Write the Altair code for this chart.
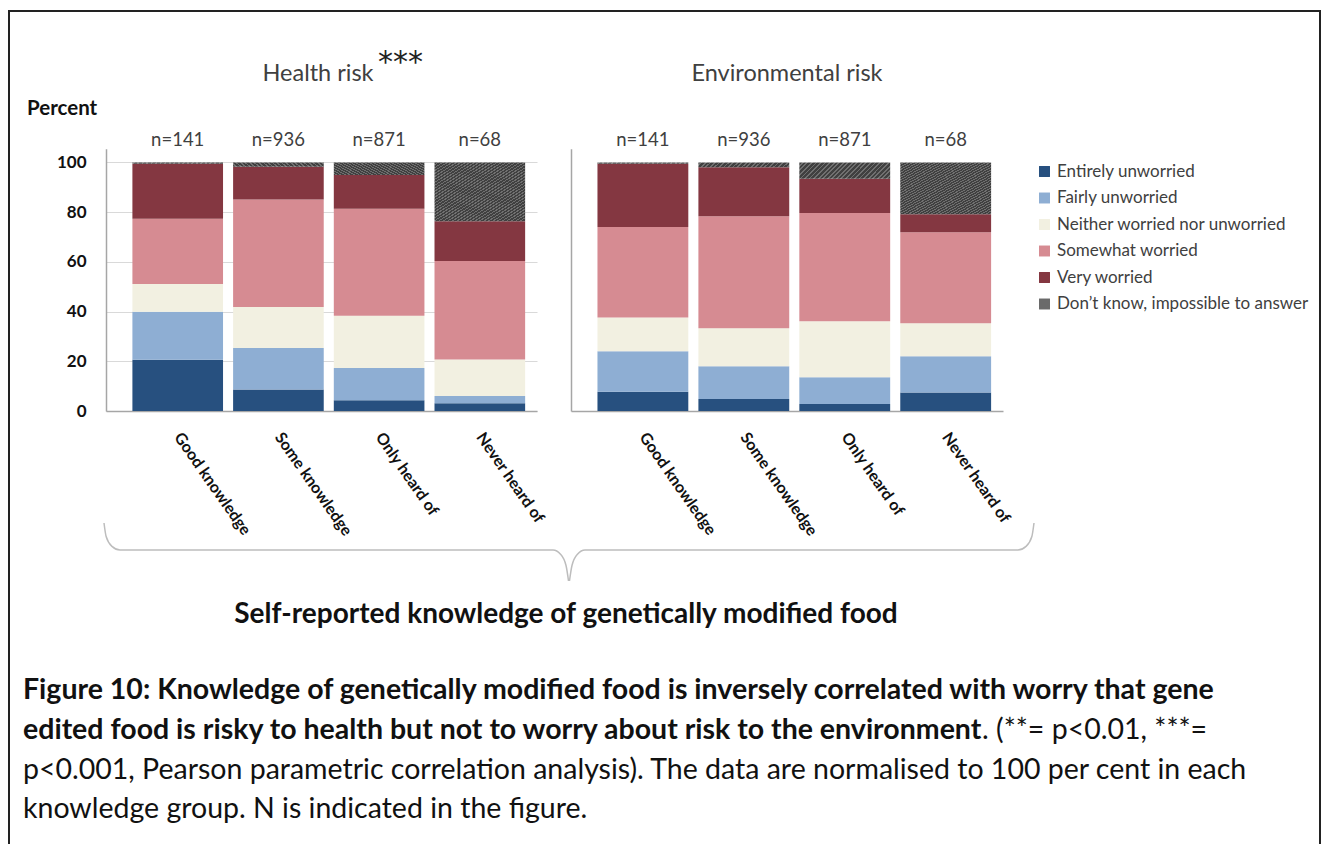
import altair as alt
import pandas as pd

# ---------------- data ----------------
groups = ["Good knowledge", "Some knowledge", "Only heard of", "Never heard of"]
n_values = [141, 936, 871, 68]
categories = [
    "Entirely unworried",
    "Fairly unworried",
    "Neither worried nor unworried",
    "Somewhat worried",
    "Very worried",
    "Don\u2019t know, impossible to answer",
]
colors = ["#27507f", "#8eaed3", "#f2f0e1", "#d68b92", "#843741", "#6a6a6a"]

health_entirely = [20.6, 8.7, 4.3, 3.1]
health_fairly = [19.3, 16.6, 13.0, 2.9]
health_neither = [11.2, 16.5, 21.0, 14.7]
health_somewhat = [26.3, 43.3, 43.1, 39.7]
health_very = [22.1, 13.2, 13.6, 15.9]
health_dontknow = [0.5, 1.7, 5.0, 23.7]

env_entirely = [7.7, 4.8, 2.8, 7.4]
env_fairly = [16.3, 13.2, 10.8, 14.6]
env_neither = [13.6, 15.3, 22.5, 13.3]
env_somewhat = [36.4, 45.1, 43.6, 36.6]
env_very = [25.5, 19.7, 13.7, 7.3]
env_dontknow = [0.5, 1.9, 6.6, 20.8]

y_ticks = [0, 20, 40, 60, 80, 100]

# brace shape (unit coordinates: along width, depth)
brace_seg = [0, 0, 0, 0, 0, 0, 0, 0, 1, 1, 1, 1, 1, 1, 1, 1]
brace_u = [0.0, 0.0023, 0.0086, 0.0172, 0.4828, 0.4909, 0.4968, 0.4995,
           0.5005, 0.5032, 0.5091, 0.5172, 0.9828, 0.9914, 0.9977, 1.0]
brace_v = [0.0, 0.233, 0.403, 0.466, 0.466, 0.538, 0.733, 1.0,
           1.0, 0.733, 0.538, 0.466, 0.466, 0.403, 0.233, 0.0]

caption_1 = "Figure 10: Knowledge of genetically modified food is inversely correlated with worry that gene"
caption_2a = "edited food is risky to health but not to worry about risk to the environment"
caption_2b = ". (**= p<0.01, ***="
caption_3 = "p<0.001, Pearson parametric correlation analysis). The data are normalised to 100 per cent in each"
caption_4 = "knowledge group. N is indicated in the figure."

# ---------------- tables ----------------
def long_table(panel, series):
    rows = []
    for ci, (cat, vals) in enumerate(zip(categories, series)):
        for g, v in zip(groups, vals):
            rows.append({"panel": panel, "group": g, "category": cat, "order": ci, "value": v})
    return pd.DataFrame(rows)

df_health = long_table("Health risk", [health_entirely, health_fairly, health_neither,
                                       health_somewhat, health_very, health_dontknow])
df_env = long_table("Environmental risk", [env_entirely, env_fairly, env_neither,
                                           env_somewhat, env_very, env_dontknow])
n_df = pd.DataFrame({"group": groups, "label": [f"n={n}" for n in n_values]})
brace_df = pd.DataFrame({"seg": brace_seg, "u": brace_u, "v": brace_v,
                         "i": list(range(len(brace_u)))})
one = pd.DataFrame({"a": [0]})

FONT = "Lato"
Y_RANGE = [403, 140.8]
CAP = 28.5

N_STRIPES = 40
hatch = alt.LinearGradient(
    gradient="linear",
    x1=0, y1=0, x2=1, y2=1,
    stops=[s for k in range(N_STRIPES) for s in (
        alt.GradientStop(color="#404040", offset=k / N_STRIPES),
        alt.GradientStop(color="#404040", offset=(k + 0.6) / N_STRIPES),
        alt.GradientStop(color="#707070", offset=(k + 0.6) / N_STRIPES),
        alt.GradientStop(color="#707070", offset=(k + 1) / N_STRIPES),
    )],
)


def panel(df, x0, x1, show_labels):
    x_enc = alt.X(
        "group:N",
        sort=groups,
        scale=alt.Scale(domain=groups, range=[x0, x1], paddingInner=0.1,
                        paddingOuter=0.19, align=0.69),
        axis=alt.Axis(orient="bottom", offset=-433, title=None, labelAngle=55,
                      labelAlign="left", labelBaseline="middle", labelFont=FONT,
                      labelFontSize=16, labelFontWeight="bold", labelColor="#111111",
                      labelPadding=23, ticks=False, domainColor="#a6a6a6",
                      domainWidth=1.5, grid=False, labelLimit=300),
    )
    y_axis = alt.Axis(orient="left", offset=-x0, title=None, values=y_ticks,
                      labels=show_labels, labelFont=FONT, labelFontSize=17,
                      labelFontWeight="bold", labelColor="#111111", labelPadding=20,
                      ticks=False, domainColor="#a6a6a6", domainWidth=1.5,
                      gridColor="#d9d9d9", gridWidth=1)
    base = alt.Chart(df).transform_stack(
        stack="value", groupby=["group"],
        sort=[alt.SortField(field="order", order="ascending")],
        as_=["y0", "y1"],
    )
    y_enc = alt.Y("y0:Q", scale=alt.Scale(domain=[0, 105.5], range=Y_RANGE, nice=False),
                  axis=y_axis)
    bars = base.transform_filter("datum.order < 5").mark_bar().encode(
        x=x_enc,
        y=y_enc,
        y2="y1:Q",
        color=alt.Color(
            "category:N",
            scale=alt.Scale(domain=categories, range=colors),
            legend=alt.Legend(orient="none", legendX=1028, legendY=155, title=None,
                              symbolType="square", symbolSize=120, symbolStrokeWidth=0,
                              labelFont=FONT, labelFontSize=17, labelColor="#404040",
                              labelLimit=400, labelOffset=4, rowPadding=8.5, padding=0),
        ),
    )
    dk = base.transform_filter("datum.order == 5").mark_bar(fill=hatch).encode(
        x=x_enc, y=y_enc, y2="y1:Q"
    )
    nlab = alt.Chart(n_df).mark_text(font=FONT, fontSize=18.5, color="#404040").encode(
        x=x_enc, y=alt.value(132), text="label:N"
    )
    return alt.layer(bars, dk, nlab)


left = panel(df_health, 98, 529, True)
right = panel(df_env, 563, 995, False)

brace = alt.Chart(brace_df).mark_line(interpolate="monotone", color="#bdbdbd",
                                      strokeWidth=1.5).encode(
    x=alt.X("u:Q", scale=alt.Scale(domain=[0, 1], range=[96, 1026]), axis=None),
    y=alt.Y("v:Q", scale=alt.Scale(domain=[0, 1], range=[515, 573]), axis=None),
    detail="seg:N",
    order="i:Q",
)

border = alt.Chart(one).mark_rect(filled=False, stroke="#222222", strokeWidth=2).encode(
    x=alt.value(1), x2=alt.value(1312), y=alt.value(3), y2=alt.value(900)
)


def label(text, x, y, size, weight="normal", color="#404040", align="center", font=FONT):
    return alt.Chart(one).mark_text(text=text, font=font, fontSize=size, fontWeight=weight,
                                    color=color, align=align, baseline="alphabetic").encode(
        x=alt.value(x), y=alt.value(y)
    )


texts = [
    label("Health risk", 310, 73, 23.5),
    label("***", 370, 64, 30, align="left", color="#222222", font="DejaVu Sans"),
    label("Environmental risk", 779, 73, 23.5),
    label("Percent", 19, 107, 20.5, weight="bold", color="#111111", align="left"),
    label("Self-reported knowledge of genetically modified food", 558, 615, 28,
          weight="bold", color="#111111"),
    label(caption_1, 15, 691, CAP, weight="bold", color="#111111", align="left"),
    label(caption_2a, 15, 731, CAP, weight="bold", color="#111111", align="left"),
    label(caption_2b, 974, 731, CAP, color="#111111", align="left"),
    label(caption_3, 15, 771, CAP, color="#111111", align="left"),
    label(caption_4, 15, 810, CAP, color="#111111", align="left"),
]

chart = alt.layer(border, left, right, brace, *texts).resolve_scale(
    x="independent", y="independent"
).properties(
    width=1313, height=836, padding=0, autosize=alt.AutoSizeParams(type="none"),
    background="white",
).configure_view(stroke=None)

chart.save("out.html", embed_options={"renderer": "svg", "actions": False})
